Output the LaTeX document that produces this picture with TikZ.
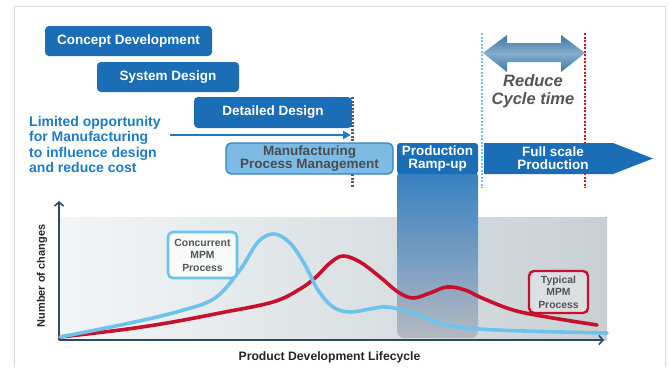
\documentclass[tikz,border=0pt]{standalone}
\usepackage{fontspec}
\setmainfont{Liberation Sans}
\usetikzlibrary{arrows.meta}
\definecolor{boxblue}{HTML}{1B6EB6}
\definecolor{textblue}{HTML}{1E7CC6}
\definecolor{mpmfill}{HTML}{7DBAE4}
\definecolor{mpmdraw}{HTML}{2F82C4}
\definecolor{mpmtext}{HTML}{4D4D4D}
\definecolor{redtext}{HTML}{555555}
\definecolor{steel}{HTML}{3E76A3}
\definecolor{steellight}{HTML}{86AECC}
\definecolor{dotblue}{HTML}{6CC4F0}
\definecolor{dotred}{HTML}{D0112B}
\definecolor{curveblue}{HTML}{6EC3EC}
\definecolor{curvered}{HTML}{C8102E}
\definecolor{axiscol}{HTML}{2A4A5E}
\definecolor{bgL}{HTML}{F3F6F7}
\definecolor{bgR}{HTML}{C7D0D4}
\definecolor{framegray}{HTML}{D9D9D9}
\definecolor{rampTop}{HTML}{3580C0}
\definecolor{rampBot}{HTML}{B4B9C1}
\tikzset{
  phase/.style={fill=boxblue, text=white, rounded corners=4pt, inner sep=0pt,
    font=\bfseries\fontsize{13.5}{12.8}\selectfont, align=center},
  mpmbox/.style={fill=mpmfill, draw=mpmdraw, line width=1.2pt, text=mpmtext,
    rounded corners=5pt, inner sep=0pt, font=\bfseries\fontsize{13.5}{12.8}\selectfont, align=center},
  legendbox/.style={rounded corners=5pt, inner sep=0pt, text=redtext,
    font=\bfseries\fontsize{10.4}{12.5}\selectfont, align=center},
  dotline/.style={line width=2.6pt, dash pattern=on 2pt off 1.5pt},
  curve/.style={line width=3.6pt, line cap=round},
  axisline/.style={line width=1.8pt, draw=axiscol, -{Straight Barb[length=4pt,width=9pt,line width=1.6pt]}},
}
\begin{document}
\begin{tikzpicture}[x=1pt,y=-1pt]
\useasboundingbox (0,0) rectangle (669,367);
\fill[white] (0,0) rectangle (669,367);
% frame
\draw[framegray, line width=1pt] (14,367) -- (14,6) -- (665,6) -- (665,367);

% dotted lines (behind the boxes)
\coordinate (blkT) at (352.5,97);
\coordinate (blkB) at (352.5,188);
\draw[dotline, draw=black!65] (blkT) -- (blkB);
\coordinate (bluT) at (482,33);
\coordinate (bluB) at (482,188);
\draw[dotline, draw=dotblue] (bluT) -- (bluB);
\coordinate (redT) at (585,33);
\coordinate (redB) at (585,188);
\draw[dotline, draw=dotred] (redT) -- (redB);

% chart background
\shade[left color=bgL, right color=bgR] (59,217) rectangle (607,340);
% ramp-up column
\shade[top color=rampTop, bottom color=rampBot, rounded corners=7pt]
  (397,170) -- (397,338) -- (478,338) -- (478,170) -- cycle;

% phase boxes
\node[phase, minimum width=167pt, minimum height=30pt] (concept) at (128.5,41) {Concept Development};
\node[phase, minimum width=142pt, minimum height=30pt] (system) at (168,77) {System Design};
\node[phase, minimum width=158pt, minimum height=31pt] (detailed) at (273,112.5) {Detailed Design};
\node[mpmbox, minimum width=167pt, minimum height=31pt] (mpm) at (309.5,158.5) {Manufacturing\\Process Management};
\node[phase, rounded corners=3pt, minimum width=81pt, minimum height=31pt] (ramp) at (437.5,158.5) {Production\\Ramp-up};

% full scale production arrow
\fill[boxblue] (484,143) -- (613,143) -- (653,158.5) -- (613,174) -- (484,174) -- cycle;
\node[text=white, font=\bfseries\fontsize{13.5}{12.8}\selectfont, align=center] (full) at (553,158.5) {Full scale\\Production};

% limited opportunity text and arrow
\node[anchor=north west, inner sep=0pt, text=textblue, align=left,
  font=\bfseries\fontsize{14}{15.4}\selectfont] (limited) at (29,116)
  {Limited opportunity\\for Manufacturing\\to influence design\\and reduce cost};
\coordinate (arrS) at (170,135);
\coordinate (arrE) at (351,135);
\draw[textblue, line width=2.2pt, -{Triangle[length=8pt,width=8pt]}] (arrS) -- (arrE);

% reduce cycle time double arrow
\shade[top color=steel, bottom color=steel, middle color=steellight]
  (483,53) -- (507,35) -- (507,43) -- (561,43) -- (561,35) -- (585,53)
  -- (561,72) -- (561,62) -- (507,62) -- (507,72) -- cycle;
\node[text=redtext, font=\bfseries\itshape\fontsize{16.5}{18}\selectfont, align=center] (reduce) at (533,91) {Reduce\\Cycle time};

% axes
\coordinate (orig) at (59,340);
\coordinate (ytip) at (59,201);
\coordinate (xtip) at (604,340);
\draw[axisline] (orig) -- (ytip);
\draw[axisline] (orig) -- (xtip);
\node[rotate=90, text=black!85, font=\bfseries\fontsize{11}{12}\selectfont] (ylab) at (42,276) {Number of changes};
\node[text=black!85, font=\bfseries\fontsize{12.2}{13}\selectfont] (xlab) at (329.5,357) {Product Development Lifecycle};

% curves
\draw[curve, curvered] plot[smooth, tension=0.6] coordinates {
 (60,337) (120,330) (167,323) (220,313) (273,302) (300,289) (316,277) (330,263)
 (343,256) (360,262) (380,277) (398,292) (413,298) (430,293) (447,287) (465,290)
 (482,298) (513,310) (547,317) (597,325)};
\draw[curve, curveblue] plot[smooth, tension=0.6] coordinates {
 (60,337) (130,323) (180,311) (215,298) (240,270) (258,242) (274,234)
 (290,243) (305,265) (318,290) (333,307) (350,312) (370,309)
 (387,307) (413,313) (447,325) (497,330) (607,333)};

% legend boxes
\node[legendbox, draw=curveblue, line width=2.6pt, fill=white!88!bgL, fill opacity=0.8, text opacity=1,
  minimum width=69pt, minimum height=46pt] (conc) at (202.5,255) {Concurrent\\MPM\\Process};
\node[legendbox, draw=curvered, line width=2.4pt, fill=bgR!60!white, fill opacity=0.85, text opacity=1,
  minimum width=59pt, minimum height=42pt] (typ) at (558.5,292) {Typical\\MPM\\Process};
\end{tikzpicture}
\end{document}
